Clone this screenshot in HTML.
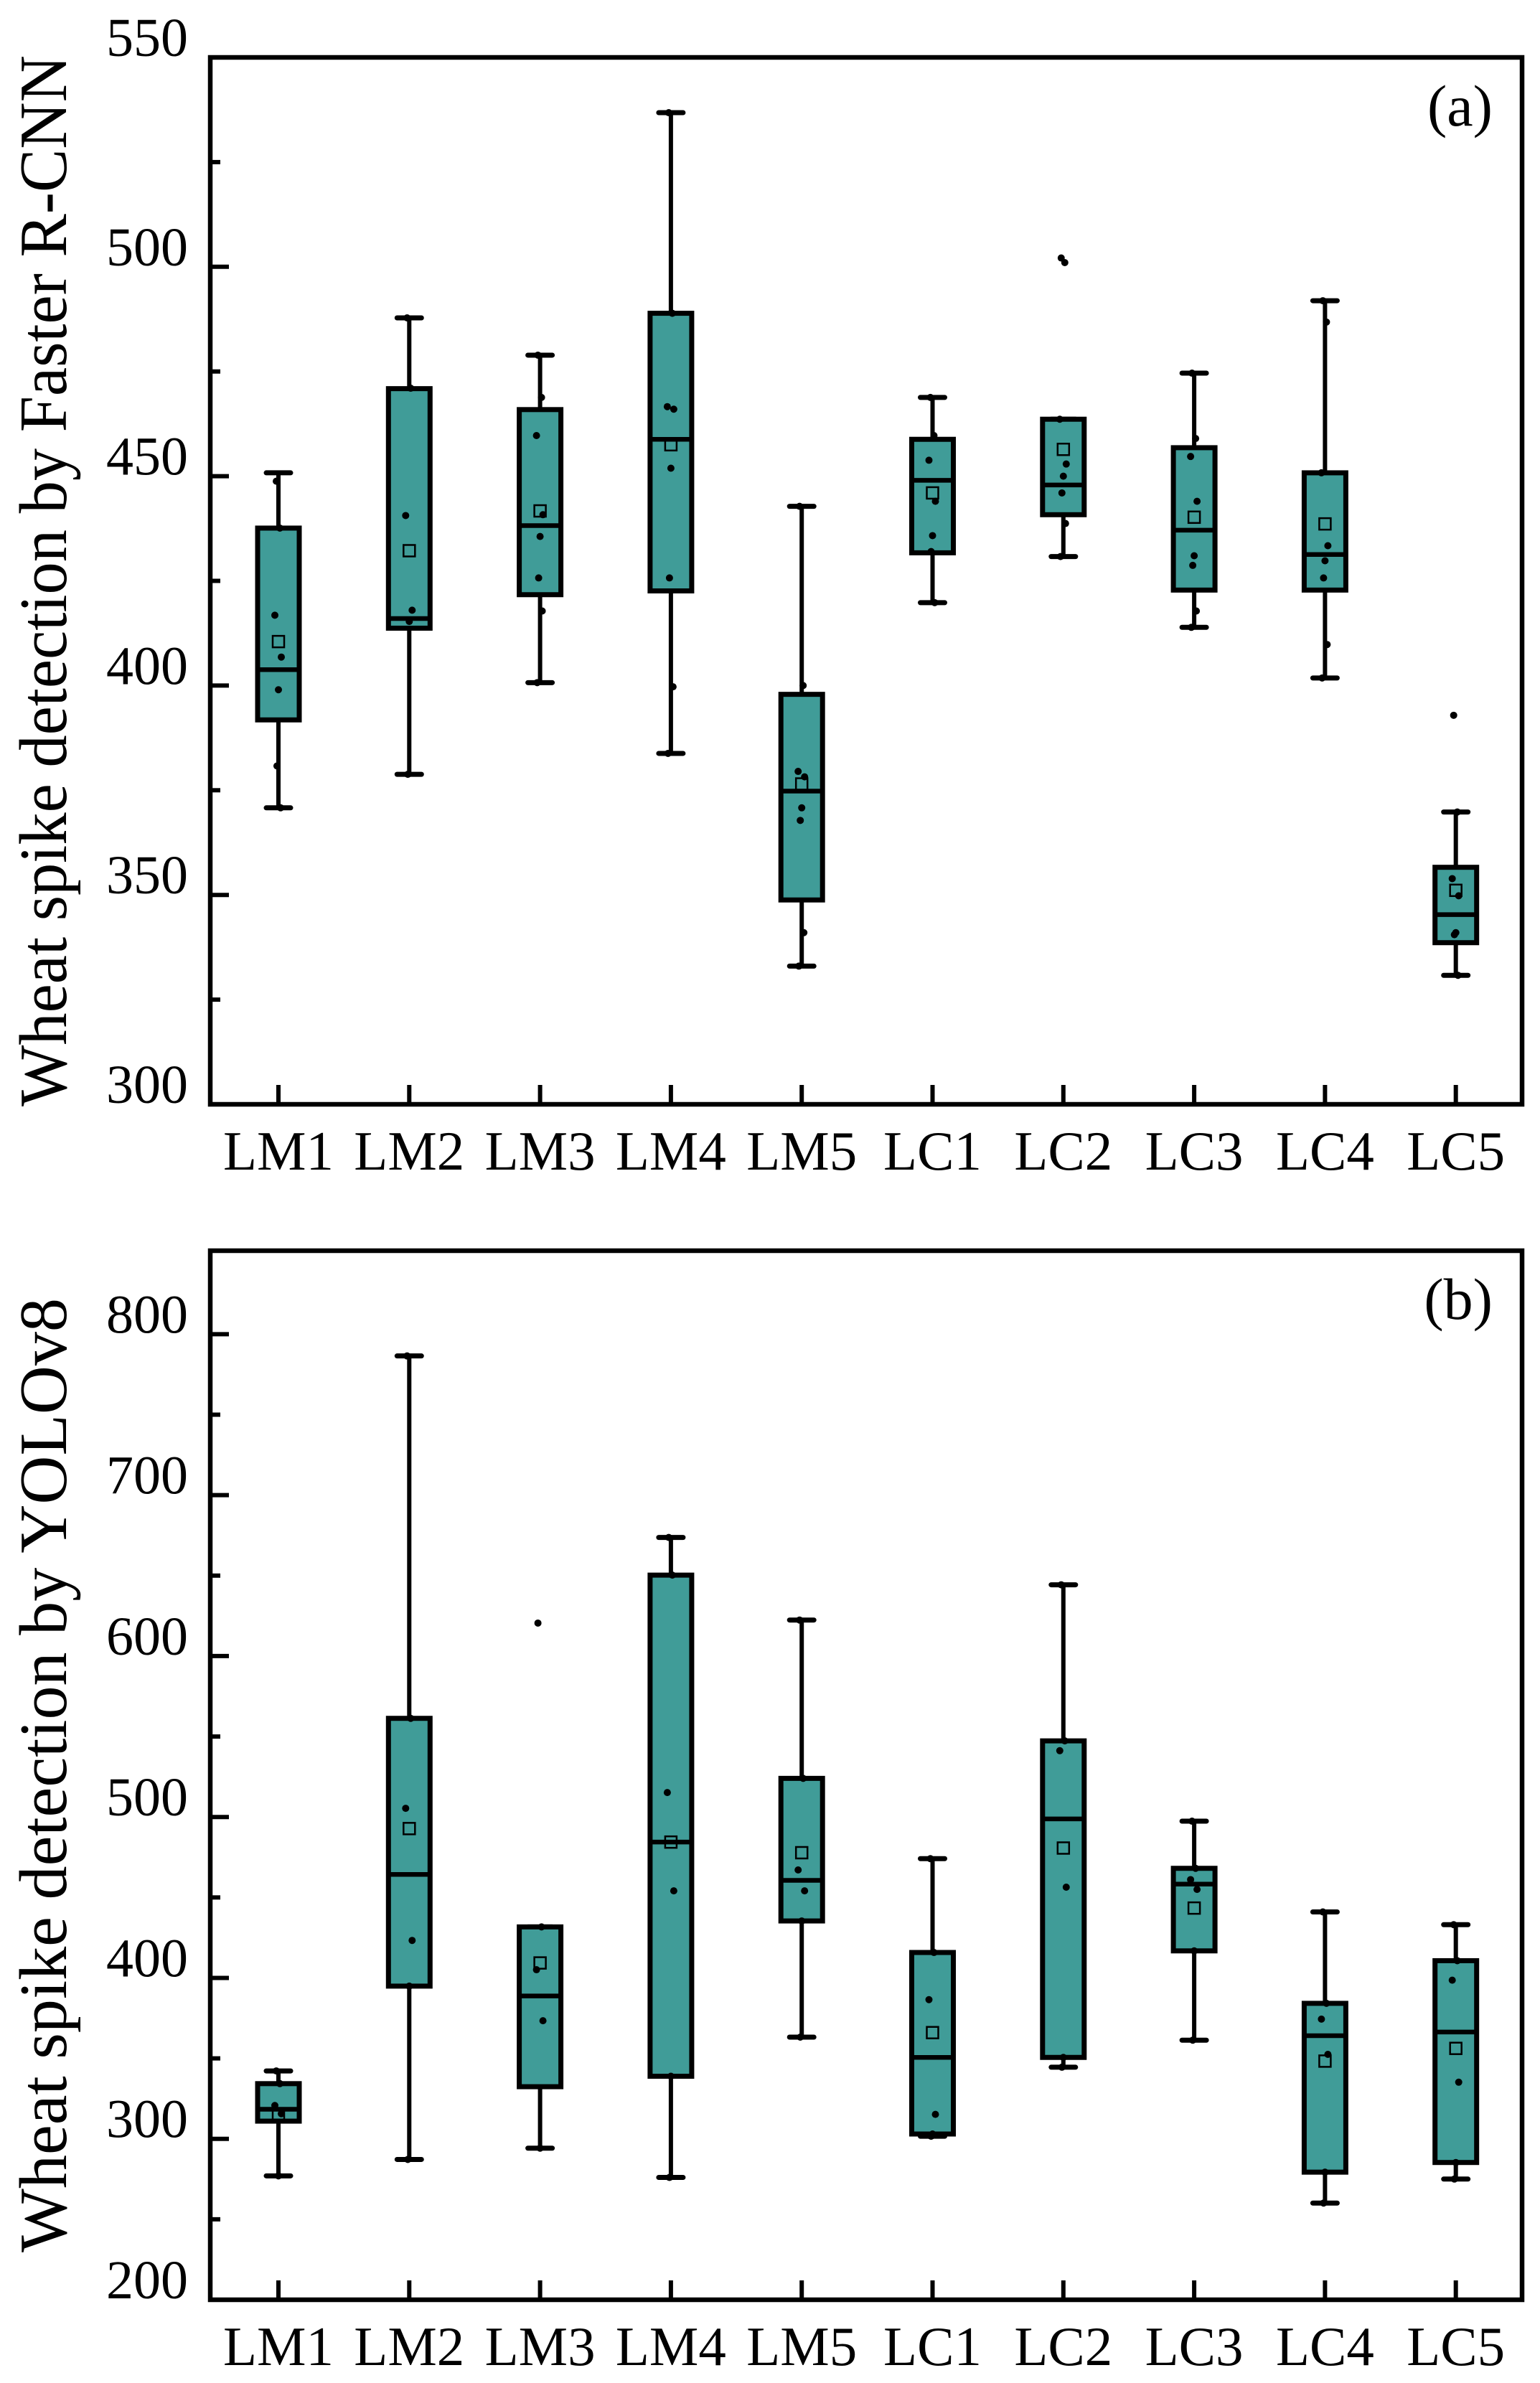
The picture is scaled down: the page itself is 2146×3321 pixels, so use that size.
<!DOCTYPE html>
<html><head><meta charset="utf-8">
<style>
html,body{margin:0;padding:0;background:#fff;}
svg{display:block;}
svg text{font-family:'Liberation Serif','Times New Roman',Times,serif;fill:#000;}
</style></head>
<body>
<svg id="chart" width="2146" height="3321" viewBox="0 0 2146 3321" xmlns="http://www.w3.org/2000/svg" font-family="Liberation Serif, Times New Roman, serif"></svg>
<script>
const categories = ["LM1","LM2","LM3","LM4","LM5","LC1","LC2","LC3","LC4","LC5"];
// Panel (a) Faster R-CNN: [whiskerLow, q1, median, q3, whiskerHigh]
const aStats = [
  [370.8,391.8,403.8,437.6,450.8],
  [378.8,413.7,416.0,470.9,487.8],
  [400.7,421.7,438.2,465.9,478.9],
  [383.8,422.6,458.8,488.9,536.8],
  [333.0,348.8,374.8,397.9,442.8],
  [419.8,431.7,449.0,458.8,468.8],
  [430.8,440.8,447.9,463.6,463.6],
  [413.9,422.8,437.1,456.8,474.6],
  [401.8,422.8,431.3,450.8,491.9],
  [330.8,338.6,345.3,356.6,369.8]
];
const aMeans = [410.5,432.2,441.7,457.5,376.5,446.0,456.4,440.2,438.6,351.1];
const aPoints = [
  [448.8,437.6,416.8,406.8,399,380.8,370.8],
  [487.8,471,440.6,418,415.3,378.8],
  [478.9,468.8,459.7,440.8,435.6,425.7,417.8,400.7],
  [536.8,488.9,466.6,466,451.9,425.7,399.7,383.8],
  [442.8,400,379.5,378.2,370.8,367.8,341,333],
  [468.8,459.7,453.8,444,435.8,432,419.8],
  [502.1,501,463.6,452.9,450,446,438.7,430.8],
  [474.6,459,454.7,444,431,428.7,417.8,413.9],
  [491.9,486.8,450.8,433.4,429.8,425.7,409.8,401.8],
  [392.9,369.8,353.9,349.8,341,340.5,330.8]
];
// Panel (b) YOLOv8
const bStats = [
  [277.0,311.0,318.4,334.3,342.2],
  [287.2,394.9,464.3,561.3,786.5],
  [294.2,332.4,388.8,431.7,431.7],
  [276.0,338.9,484.4,650.3,673.7],
  [363.2,435.4,460.6,524.0,622.4],
  [301.6,303.0,350.6,415.8,474.1],
  [344.5,350.6,498.8,547.3,644.3],
  [361.3,416.8,458.3,468.1,497.4],
  [260.1,279.3,364.1,384.2,441.0],
  [275.0,285.3,366.4,410.7,433.1]
];
const bMeans = [315.6,492.8,409.3,484.4,477.8,366.0,480.7,443.4,348.3,356.2];
const bPoints = [
  [342.2,334.3,320.7,315.6,277],
  [786.5,561.3,505.4,423.3,394.9,287.2],
  [620.5,431.7,405.1,373.4,294.2],
  [673.7,650.3,515.2,454.1,338.9,276],
  [622.4,524,467.1,454.1,435.4,363.2],
  [474.1,415.8,386.5,315.2,303,301.6],
  [644.3,547.3,541.2,456.4,350.6,344.5],
  [497.4,468.1,461.1,455,416.8,361.3],
  [441,384.2,374.4,352.5,279.3,260.1],
  [433.1,410.7,398.6,335.2,285.3,275]
];
const aTicks = [300,350,400,450,500,550];
const bTicks = [200,300,400,500,600,700,800];

const NS = "http://www.w3.org/2000/svg";
const svg = document.getElementById("chart");
const FONT = "Liberation Serif, Times New Roman, serif";
function mk(tag, attrs, parent){
  const e = document.createElementNS(NS, tag);
  for (const k in attrs) e.setAttribute(k, attrs[k]);
  if (tag === "text") e.setAttribute("font-family", FONT);
  (parent||svg).appendChild(e);
  return e;
}
const L = 293, R = 2121;
const x0 = 388, dx = 182.3;
function xPos(i){ return x0 + i*dx; }
const FILL = "#409c98";

function panel(cfg){
  const g = mk("g", {});
  
  
  const y = v => cfg.bottom - (v - cfg.vmin) * (cfg.bottom - cfg.top) / (cfg.vmax - cfg.vmin);
  const fr = mk("rect", {x:L, y:cfg.top, width:R-L, height:cfg.bottom-cfg.top, fill:"none", stroke:"#000", "stroke-width":6.5}, g);
  
  
  for (let v = cfg.vmin; v < cfg.vmax - 10; v += cfg.minor){
    const major = Math.abs((v - cfg.vmin) % cfg.major) < 0.01;
    const t = mk("line", {x1:L, x2:L + (major?26:14), y1:y(v), y2:y(v), stroke:"#000", "stroke-width":6}, g);
    
    
  }
  cfg.ticks.forEach(v => {
    const t = mk("text", {x:262, y:y(v) - 2, "text-anchor":"end", "font-size":76}, g);
    t.textContent = v;
    
    
  });
  const cy = (cfg.top + cfg.bottom)/2;
  const tt = mk("text", {x:0, y:0, transform:`translate(92,${cy}) rotate(-90)`, "text-anchor":"middle", "font-size":94, textLength:cfg.titleLen, lengthAdjust:"spacingAndGlyphs"}, g);
  tt.textContent = cfg.title;
  
  
  const pl = mk("text", {x:2080, y:cfg.top + 95, "text-anchor":"end", "font-size":82}, g);
  pl.textContent = cfg.label;
  
  
  categories.forEach((c, i) => {
    const cx = xPos(i);
    const xt = mk("line", {x1:cx, x2:cx, y1:cfg.bottom, y2:cfg.bottom - 27, stroke:"#000", "stroke-width":6}, g);
    
    
    const xl = mk("text", {x:cx, y:cfg.bottom + 91, "text-anchor":"middle", "font-size":77}, g);
    xl.textContent = c;
    
    
    const s = cfg.stats[i];
    const bg = mk("g", {}, g);
    
    
    mk("line", {x1:cx, x2:cx, y1:y(s[0]), y2:y(s[4]), stroke:"#000", "stroke-width":6}, bg);
    mk("line", {x1:cx-17, x2:cx+17, y1:y(s[0]), y2:y(s[0]), stroke:"#000", "stroke-width":7, "stroke-linecap":"round"}, bg);
    mk("line", {x1:cx-17, x2:cx+17, y1:y(s[4]), y2:y(s[4]), stroke:"#000", "stroke-width":7, "stroke-linecap":"round"}, bg);
    mk("rect", {x:cx-29, y:y(s[3]), width:58, height:y(s[1]) - y(s[3]), fill:FILL, stroke:"#000", "stroke-width":7}, bg);
    mk("line", {x1:cx-29, x2:cx+29, y1:y(s[2]), y2:y(s[2]), stroke:"#000", "stroke-width":6.5}, bg);
    cfg.points[i].forEach((p, k) => {
      const off = [-3,2,-5,4,0,-2,3,-4][k % 8];
      const d = mk("circle", {cx:cx + off, cy:y(p), r:5, fill:"#000"}, bg);
      
      
    });
    const m = mk("rect", {x:cx-8, y:y(cfg.means[i]) - 8, width:16, height:16, fill:"none", stroke:"#000", "stroke-width":2.5}, bg);
    
    
  });
}

panel({name:"panel-a-faster-rcnn", top:80, bottom:1539, vmin:300, vmax:550, major:50, minor:25,
  ticks:aTicks, stats:aStats, means:aMeans, points:aPoints, label:"(a)",
  title:"Wheat spike detection  by Faster R-CNN", titleLen:1465});
panel({name:"panel-b-yolov8", top:1743, bottom:3205, vmin:200, vmax:851.9, major:100, minor:50,
  ticks:bTicks, stats:bStats, means:bMeans, points:bPoints, label:"(b)",
  title:"Wheat spike detection  by YOLOv8", titleLen:1330});
</script>
</body></html>
